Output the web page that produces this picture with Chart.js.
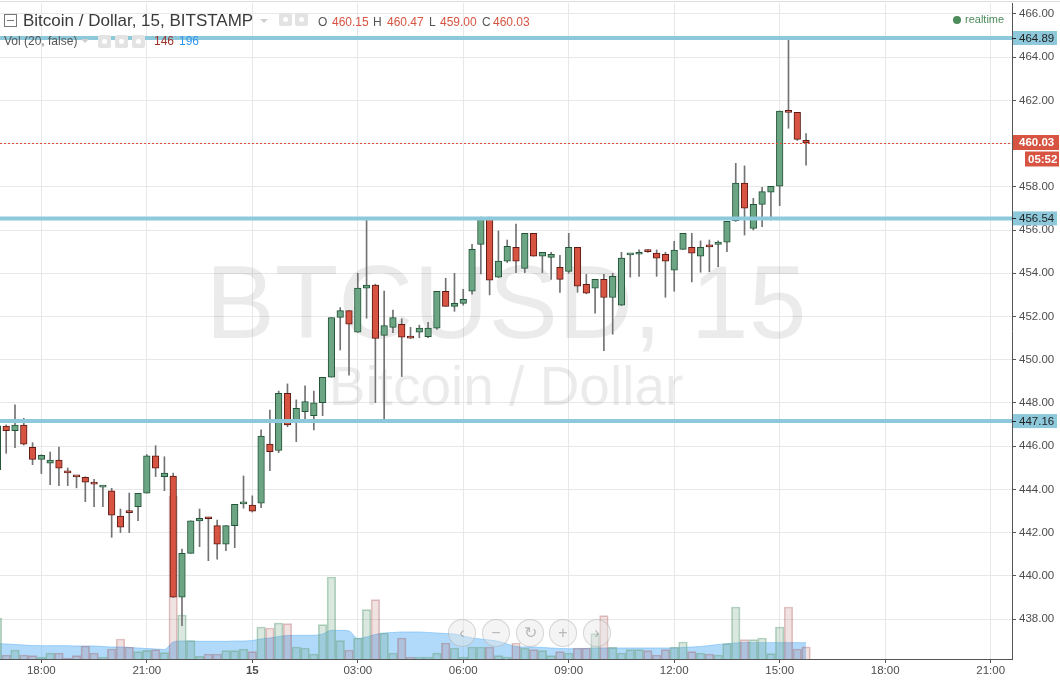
<!DOCTYPE html>
<html lang="en">
<head>
<meta charset="UTF-8">
<title>Bitcoin / Dollar, 15, BITSTAMP</title>
<script src="https://cdn.jsdelivr.net/npm/chart.js"></script>
<style>
    body { margin: 0; background: #fff; font-family: 'Liberation Sans', Arial, sans-serif; }
    #wrap { position: relative; width: 1060px; height: 680px; overflow: hidden; }
    #chart { position: absolute; left: 0; top: 0; }
    .t { position: absolute; white-space: nowrap; line-height: 1; }
    .ico { position: absolute; width: 13px; height: 13px; background: #e3e3e3; border-radius: 2px; }
    .ico::after { content: ''; position: absolute; left: 4px; top: 4px; width: 5px; height: 5px; border-radius: 50%; background: #fff; }
    .drop { position: absolute; width: 0; height: 0; border-left: 4px solid transparent; border-right: 4px solid transparent; border-top: 4px solid #cfcfcf; }
    .nav { position: absolute; width: 26px; height: 26px; border-radius: 50%; border: 1px solid rgba(140,140,140,0.3);
           background: rgba(230,230,230,0.45); color: rgba(110,110,110,0.45); font-size: 16px; line-height: 26px; text-align: center; }
</style>
</head>
<body>
<div id="wrap">
    <canvas id="chart" width="1060" height="680"></canvas>

    <!-- header legend -->
    <div style="position:absolute;left:4px;top:14px;width:11px;height:11px;border:1px solid #777;">
        <div style="position:absolute;left:2px;top:5px;width:7px;height:1px;background:#777;"></div>
    </div>
    <div class="t" style="left:23px;top:12.3px;font-size:17px;color:#3a3a3a;">Bitcoin / Dollar, 15, BITSTAMP</div>
    <div class="drop" style="left:260px;top:19px;"></div>
    <div class="ico" style="left:279px;top:13px;"></div>
    <div class="ico" style="left:295px;top:13px;"></div>
    <div id="ohlc"></div>

    <div class="t" style="left:4px;top:34.8px;font-size:12px;color:#555;">Vol (20, false)</div>
    <div class="drop" style="left:81px;top:39px;"></div>
    <div class="ico" style="left:98px;top:35px;"></div>
    <div class="ico" style="left:115px;top:35px;"></div>
    <div class="ico" style="left:132px;top:35px;"></div>
    <div id="volText"></div>

    <div style="position:absolute;left:953px;top:15.5px;width:8px;height:8px;border-radius:50%;background:#4c8b5a;"></div>
    <div class="t" style="left:965px;top:14.2px;font-size:11px;color:#4c8b5a;">realtime</div>

    <!-- scroll / zoom buttons -->
    <div class="nav" style="left:448px;top:619px;">&lsaquo;</div>
    <div class="nav" style="left:482px;top:619px;">&minus;</div>
    <div class="nav" style="left:516px;top:619px;">&#8635;</div>
    <div class="nav" style="left:549px;top:619px;">+</div>
    <div class="nav" style="left:583px;top:619px;">&rsaquo;</div>
</div>

<script>
    // bar index 0 = 17:00 candle, 15 min per bar
    const firstIndex = -1;

    const opens = [
        444.90, 446.93, 446.72, 446.97, 445.95, 445.38, 445.21, 445.35, 444.80, 444.60,
        444.56, 444.33, 444.10, 443.93, 442.76, 442.96, 443.20, 443.82, 445.55, 444.59,
        444.62, 439.01, 441.04, 442.54, 442.68, 442.32, 441.46, 442.32, 443.33, 443.27,
        443.36, 446.09, 445.80, 448.45, 447.13, 447.60, 447.41, 448.01, 449.19, 451.96,
        452.27, 451.27, 453.31, 453.45, 451.13, 451.50, 451.64, 451.05, 451.27, 451.07,
        451.46, 453.17, 452.47, 452.61, 453.17, 455.34, 456.59, 453.82, 454.56, 455.20,
        454.23, 455.85, 454.79, 454.74, 454.28, 454.09, 455.20, 453.49, 453.31, 453.72,
        452.88, 452.52, 454.85, 454.88, 455.08, 454.93, 454.88, 454.14, 455.11, 455.20,
        454.79, 455.25, 455.34, 455.44, 456.43, 458.17, 456.08, 457.19, 457.75, 458.03,
        461.50, 461.45, 460.15
    ];
    const highs = [
        447.05, 446.98, 447.91, 447.29, 446.16, 445.60, 445.73, 445.96, 444.99, 444.62,
        444.58, 444.47, 444.15, 444.05, 443.09, 443.83, 443.82, 445.61, 446.02, 445.51,
        444.75, 441.24, 442.54, 443.09, 442.70, 442.58, 442.32, 443.31, 444.62, 443.70,
        446.75, 447.67, 448.55, 448.88, 448.14, 448.79, 448.55, 449.19, 451.95, 452.41,
        452.27, 454.00, 456.50, 453.50, 453.18, 452.30, 451.89, 451.50, 451.60, 451.73,
        453.17, 453.77, 454.00, 453.26, 455.34, 456.60, 456.60, 455.96, 455.54, 456.28,
        455.85, 455.85, 454.97, 454.97, 454.83, 455.85, 455.20, 453.95, 453.72, 453.95,
        454.00, 454.97, 454.90, 455.08, 455.10, 455.08, 454.97, 455.48, 455.85, 455.85,
        455.50, 455.54, 455.50, 456.41, 459.09, 458.97, 457.47, 457.98, 458.03, 461.51,
        464.89, 461.45, 460.47
    ];
    const lows = [
        444.60, 445.67, 445.93, 446.05, 445.14, 444.73, 444.22, 444.17, 444.17, 444.07,
        443.43, 443.20, 443.20, 441.78, 442.00, 442.00, 442.55, 443.82, 444.59, 443.94,
        439.00, 437.69, 441.04, 441.35, 440.70, 440.77, 441.16, 441.30, 443.13, 442.95,
        443.15, 444.87, 445.70, 446.90, 446.21, 447.21, 446.75, 447.41, 449.19, 450.45,
        449.29, 451.27, 451.92, 448.01, 447.24, 451.25, 449.22, 450.98, 451.02, 451.02,
        451.40, 452.47, 452.24, 452.52, 453.03, 453.97, 453.00, 453.80, 454.50, 454.03,
        454.03, 454.79, 454.03, 453.72, 453.12, 454.00, 453.12, 453.05, 452.15, 450.42,
        451.18, 452.50, 453.82, 453.86, 454.97, 453.86, 452.89, 453.17, 455.10, 453.60,
        454.05, 454.07, 454.31, 455.00, 456.40, 455.77, 456.00, 456.16, 456.47, 457.13,
        460.71, 460.15, 459.00
    ];
    const closes = [
        446.94, 446.72, 446.97, 446.09, 445.39, 445.58, 445.35, 444.98, 444.76, 444.58,
        444.33, 444.24, 444.13, 442.80, 442.25, 442.92, 443.82, 445.55, 444.98, 444.75,
        439.01, 441.04, 442.54, 442.66, 442.64, 441.46, 442.32, 443.31, 443.38, 442.99,
        446.47, 445.75, 448.45, 446.98, 447.75, 448.06, 448.01, 449.19, 451.95, 452.27,
        451.64, 453.31, 453.45, 450.99, 451.58, 451.95, 451.04, 451.00, 451.46, 451.46,
        453.17, 452.47, 452.61, 452.80, 455.11, 456.55, 453.68, 454.56, 455.25, 454.56,
        455.85, 454.79, 454.97, 454.88, 453.72, 455.20, 453.40, 453.08, 453.72, 452.88,
        453.86, 454.70, 454.90, 454.97, 455.00, 454.70, 454.56, 455.07, 455.85, 454.93,
        455.20, 455.22, 455.44, 456.41, 458.17, 457.01, 457.19, 457.78, 458.03, 461.51,
        461.45, 460.20, 460.03
    ];
    const volumes = [
        492, 48, 108, 48, 40, 20, 72, 72, 12, 40,
        156, 72, 24, 120, 240, 144, 88, 104, 112, 76,
        1956, 528, 220, 32, 60, 60, 100, 100, 120, 88,
        384, 372, 432, 424, 144, 132, 60, 412, 984, 220,
        108, 252, 592, 712, 312, 72, 252, 24, 24, 24,
        72, 192, 132, 24, 144, 144, 144, 40, 24, 192,
        132, 112, 100, 40, 88, 72, 132, 132, 304, 520,
        140, 72, 112, 112, 100, 48, 112, 144, 204, 88,
        72, 60, 48, 184, 624, 232, 232, 252, 64, 384,
        624, 120, 146
    ];
    const volumeMA = [
        184, 180, 174, 168, 162, 160, 160, 160, 160, 156,
        156, 156, 150, 144, 144, 138, 132, 126, 120, 114,
        204, 216, 216, 212, 212, 212, 212, 216, 216, 222,
        240, 252, 270, 282, 284, 284, 284, 300, 344, 344,
        336, 246, 264, 294, 312, 318, 324, 324, 324, 318,
        312, 306, 300, 276, 252, 240, 228, 212, 180, 150,
        144, 144, 138, 132, 126, 124, 124, 126, 132, 132,
        132, 132, 132, 132, 132, 132, 132, 132, 138, 144,
        150, 162, 174, 184, 192, 198, 196, 196, 196, 196,
        196, 196, 196
    ];

    const timeTickIndex = [4, 16, 28, 40, 52, 64, 76, 88, 100, 112];
    const timeTickLabels = ['18:00', '21:00', '15', '03:00', '06:00', '09:00', '12:00', '15:00', '18:00', '21:00'];
    const priceTicks = [438, 440, 442, 444, 446, 448, 450, 452, 454, 456, 458, 460, 462, 464, 466];
    const levelLines = [464.89, 456.54, 447.16];
    const lastPrice = 460.03;
    const countdown = '05:52';

    const UP = '#6ba583', DOWN = '#d75442', UP_BORDER = '#225437', DOWN_BORDER = '#5b1a13';
    const FONT = "'Liberation Sans', Arial, sans-serif";

    const isUp = closes.map((c, k) => c >= opens[k]);
    const xOf = k => firstIndex + k;

    // header values from the last bar
    const last = opens.length - 1;
    const ohlcParts = [
        ['O', 318, '#555'], [opens[last].toFixed(2), 332, DOWN],
        ['H', 373, '#555'], [highs[last].toFixed(2), 387, DOWN],
        ['L', 429, '#555'], [lows[last].toFixed(2), 440, DOWN],
        ['C', 482, '#555'], [closes[last].toFixed(2), 493, DOWN]
    ];
    document.getElementById('ohlc').innerHTML = ohlcParts.map(p =>
        `<div class="t" style="left:${p[1]}px;top:15.5px;font-size:12px;color:${p[2]};">${p[0]}</div>`).join('');
    document.getElementById('volText').innerHTML =
        `<div class="t" style="left:154px;top:35.3px;font-size:12px;color:#9a3428;">${volumes[last]}</div>` +
        `<div class="t" style="left:179px;top:35.3px;font-size:12px;color:#2f97f0;">${volumeMA[last]}</div>`;

    const overlay = {
        id: 'overlay',
        beforeDatasetsDraw(chart) {
            const {ctx, chartArea: a} = chart;
            const cx = (a.left + a.right) / 2;
            ctx.save();
            ctx.fillStyle = 'rgba(0,0,0,0.08)';
            ctx.textAlign = 'center';
            ctx.textBaseline = 'alphabetic';
            ctx.font = `104px ${FONT}`;
            ctx.fillText('BTCUSD, 15', cx, 338);
            ctx.font = `55px ${FONT}`;
            ctx.fillText('Bitcoin / Dollar', cx, 405);
            ctx.restore();
        },
        afterDatasetsDraw(chart) {
            const {ctx, chartArea: a, scales: {y}} = chart;
            ctx.save();
            const py = Math.round(y.getPixelForValue(lastPrice)) + 0.5;
            ctx.strokeStyle = '#e0503c';
            ctx.lineWidth = 1;
            ctx.setLineDash([2, 2]);
            ctx.beginPath(); ctx.moveTo(a.left, py); ctx.lineTo(a.right, py); ctx.stroke();
            ctx.setLineDash([]);
            ctx.strokeStyle = '#8ec9db';
            ctx.lineWidth = 4;
            levelLines.forEach(v => {
                const ly = y.getPixelForValue(v);
                ctx.beginPath(); ctx.moveTo(a.left, ly); ctx.lineTo(a.right, ly); ctx.stroke();
            });
            ctx.restore();
        },
        afterDraw(chart) {
            const {ctx, chartArea: a, scales: {y}} = chart;
            ctx.save();
            ctx.strokeStyle = '#dcdcdc';
            ctx.lineWidth = 1;
            ctx.beginPath(); ctx.moveTo(0, 1.5); ctx.lineTo(chart.width, 1.5); ctx.stroke();

            ctx.font = `11.5px ${FONT}`;
            ctx.textBaseline = 'middle';
            ctx.textAlign = 'left';
            levelLines.forEach(v => {
                const ly = y.getPixelForValue(v);
                ctx.fillStyle = '#8ec9db';
                ctx.fillRect(a.right + 1, ly - 7, 44, 14);
                ctx.fillStyle = '#222';
                ctx.fillRect(a.right, Math.round(ly), 4, 1);
                ctx.fillText(v.toFixed(2), a.right + 7, ly + 0.5);
            });
            const py = y.getPixelForValue(lastPrice);
            ctx.fillStyle = DOWN;
            ctx.fillRect(a.right + 1, py - 8, 46, 15);
            ctx.fillRect(a.right + 13, py + 8.5, 34, 15);
            ctx.fillStyle = '#fff';
            ctx.font = `bold 11.5px ${FONT}`;
            ctx.fillText(lastPrice.toFixed(2), a.right + 7, py);
            ctx.fillText(countdown, a.right + 16, py + 16.5);
            ctx.restore();
        }
    };

    Chart.defaults.font.family = FONT;

    new Chart(document.getElementById('chart'), {
        type: 'bar',
        data: {
            datasets: [
                {
                    type: 'line',
                    label: 'Vol MA',
                    yAxisID: 'yv',
                    data: volumeMA.map((v, k) => ({x: xOf(k), y: v})),
                    fill: 'origin',
                    backgroundColor: 'rgba(100,181,246,0.5)',
                    borderColor: 'rgba(100,181,246,0.55)',
                    borderWidth: 1,
                    pointRadius: 0,
                    cubicInterpolationMode: 'monotone',
                    order: 5
                },
                {
                    label: 'Vol',
                    yAxisID: 'yv',
                    data: volumes.map((v, k) => ({x: xOf(k), y: v})),
                    backgroundColor: isUp.map(u => u ? 'rgba(107,165,131,0.25)' : 'rgba(160,60,60,0.15)'),
                    borderColor: isUp.map(u => u ? 'rgba(107,165,131,0.5)' : 'rgba(160,60,60,0.3)'),
                    borderWidth: 1,
                    borderSkipped: 'bottom',
                    barThickness: 8.6,
                    grouped: false,
                    order: 4
                },
                {
                    label: 'wick',
                    yAxisID: 'y',
                    data: lows.map((l, k) => ({x: xOf(k), y: [l, highs[k]]})),
                    backgroundColor: '#737375',
                    barThickness: 1,
                    grouped: false,
                    order: 2
                },
                {
                    label: 'body',
                    yAxisID: 'y',
                    data: opens.map((o, k) => ({x: xOf(k), y: [Math.min(o, closes[k]), Math.max(o, closes[k])]})),
                    backgroundColor: isUp.map(u => u ? UP : DOWN),
                    borderColor: isUp.map(u => u ? UP_BORDER : DOWN_BORDER),
                    borderWidth: 1,
                    borderSkipped: false,
                    barThickness: 6.6,
                    minBarLength: 2,
                    grouped: false,
                    order: 1
                }
            ]
        },
        options: {
            responsive: false,
            devicePixelRatio: 1,
            animation: false,
            layout: {padding: {top: 3, left: 0, right: 0, bottom: 0}},
            plugins: {legend: {display: false}, tooltip: {enabled: false}},
            scales: {
                x: {
                    type: 'linear',
                    min: -0.705,
                    max: 114.43,
                    offset: false,
                    afterBuildTicks: s => { s.ticks = timeTickIndex.map(v => ({value: v})); },
                    afterFit: s => { s.height = 21; s.paddingLeft = 0; s.paddingRight = 0; },
                    ticks: {
                        autoSkip: false,
                        maxRotation: 0,
                        padding: 1,
                        color: '#4d4d4d',
                        callback: v => timeTickLabels[timeTickIndex.indexOf(v)],
                        font: c => ({size: 11.5, weight: c.tick && c.tick.label === '15' ? 'bold' : 'normal'})
                    },
                    grid: {color: '#e8e8e8', tickLength: 4, tickColor: '#555', offset: false},
                    border: {color: '#555'}
                },
                y: {
                    position: 'right',
                    min: 436.149,
                    max: 466.509,
                    afterBuildTicks: s => { s.ticks = priceTicks.map(v => ({value: v})); },
                    afterFit: s => { s.width = 48; s.paddingTop = 0; s.paddingBottom = 0; },
                    ticks: {
                        padding: 3,
                        color: '#4d4d4d',
                        font: {size: 11.5},
                        callback: v => v.toFixed(2)
                    },
                    grid: {color: '#e8e8e8', tickLength: 4, tickColor: '#555'},
                    border: {color: '#555'}
                },
                yv: {display: false, min: 0, max: 7872}
            }
        },
        plugins: [overlay]
    });
</script>
</body>
</html>
